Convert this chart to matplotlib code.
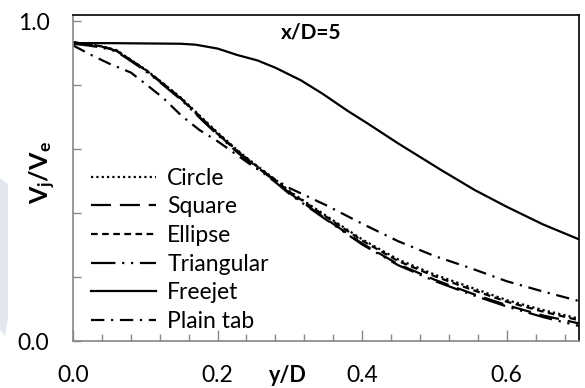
import matplotlib
matplotlib.use("Agg")
import matplotlib.pyplot as plt
import numpy as np
from matplotlib.patches import Polygon

# Veriler
yd = [0.0, 0.02, 0.04, 0.06, 0.08, 0.10, 0.12, 0.15, 0.18, 0.20, 0.23, 0.25,
      0.28, 0.30, 0.35, 0.40, 0.45, 0.50, 0.55, 0.60, 0.65, 0.70]
circle = [0.935, 0.928, 0.922, 0.910, 0.880, 0.850, 0.815, 0.760, 0.695, 0.652, 0.592, 0.556,
          0.505, 0.468, 0.392, 0.318, 0.255, 0.208, 0.168, 0.128, 0.097, 0.070]
square = [0.935, 0.928, 0.921, 0.908, 0.878, 0.848, 0.812, 0.757, 0.690, 0.648, 0.588, 0.552,
          0.500, 0.462, 0.382, 0.305, 0.240, 0.192, 0.150, 0.112, 0.080, 0.055]
ellipse = [0.935, 0.928, 0.922, 0.909, 0.879, 0.849, 0.814, 0.758, 0.693, 0.650, 0.590, 0.554,
           0.503, 0.466, 0.389, 0.314, 0.250, 0.203, 0.162, 0.123, 0.092, 0.065]
triangular = [0.930, 0.925, 0.918, 0.906, 0.876, 0.845, 0.810, 0.754, 0.688, 0.645, 0.585, 0.549,
              0.497, 0.459, 0.380, 0.302, 0.237, 0.188, 0.146, 0.108, 0.075, 0.047]

yd_free = [0.0, 0.05, 0.10, 0.15, 0.17, 0.20, 0.227, 0.255, 0.28, 0.315, 0.345, 0.38,
           0.408, 0.45, 0.51, 0.556, 0.60, 0.65, 0.70]
freejet = [0.932, 0.932, 0.931, 0.930, 0.927, 0.915, 0.895, 0.878, 0.855, 0.816, 0.774, 0.720,
           0.680, 0.618, 0.534, 0.472, 0.420, 0.365, 0.318]

yd_plain = [0.0, 0.025, 0.05, 0.08, 0.10, 0.125, 0.15, 0.175, 0.20, 0.25, 0.30, 0.35,
            0.40, 0.45, 0.50, 0.55, 0.60, 0.65, 0.70]
plain_tab = [0.925, 0.895, 0.868, 0.840, 0.805, 0.760, 0.705, 0.660, 0.625, 0.545, 0.478, 0.425,
             0.367, 0.312, 0.266, 0.228, 0.187, 0.155, 0.125]

plt.rcParams['font.family'] = ['Lato', 'DejaVu Sans']
plt.rcParams['mathtext.fontset'] = 'custom'
plt.rcParams['mathtext.rm'] = 'Lato'
plt.rcParams['mathtext.bf'] = 'Lato:bold'

fig = plt.figure(figsize=(5.85, 3.88), dpi=100)
W, H = 585, 388

# Soldaki soluk filigran
wm = Polygon([(0 / W, 1 - 178 / H), (8 / W, 1 - 184 / H), (8 / W, 1 - 318 / H),
              (5 / W, 1 - 336 / H), (0 / W, 1 - 330 / H)],
             closed=True, transform=fig.transFigure, facecolor='#e2e6ee',
             edgecolor='none', zorder=0)
fig.patches.append(wm)

ax = fig.add_axes([73 / W, 1 - 341 / H, (579 - 73) / W, (341 - 15) / H])

lw = 1.6
ax.plot(yd, circle, color='black', lw=lw, ls=(0, (1, 1.4)), label='Circle')
ax.plot(yd, square, color='black', lw=lw, ls=(0, (9, 4)), label='Square')
ax.plot(yd, ellipse, color='black', lw=lw, ls=(0, (3, 2)), label='Ellipse')
ax.plot(yd, triangular, color='black', lw=lw, ls=(0, (11, 3, 1, 3, 1, 3)), label='Triangular')
ax.plot(yd_free, freejet, color='black', lw=lw, ls='-', label='Freejet')
ax.plot(yd_plain, plain_tab, color='black', lw=lw, ls=(0, (6, 3, 1, 3)), label='Plain tab')

ax.set_xlim(0, 0.7)
ax.set_ylim(0, 1.02)

ax.set_xticks([0.0, 0.2, 0.4, 0.6])
ax.set_xticklabels(['0.0', '0.2', '0.4', '0.6'])
ax.set_xticks(np.arange(0.04, 0.7, 0.04), minor=True)
ax.set_yticks([0.0, 1.0])
ax.set_yticklabels(['0.0', '1.0'])
ax.set_yticks([0.2, 0.4, 0.6, 0.8], minor=True)

ax.tick_params(axis='x', which='major', direction='in', length=8, width=1,
               color='#888888', labelsize=16.5, pad=17)
ax.tick_params(axis='x', which='minor', direction='in', length=5, width=1, color='#888888')
ax.tick_params(axis='y', which='both', direction='in', length=6, width=1,
               color='#888888', labelsize=16.5, pad=17)

for side in ['left', 'bottom']:
    ax.spines[side].set_color('#888888')
    ax.spines[side].set_linewidth(1.2)
for side in ['top', 'right']:
    ax.spines[side].set_color('black')
    ax.spines[side].set_linewidth(1.2)

ax.text(0.471, 0.945, 'x/D=5', transform=ax.transAxes, ha='center', va='center',
        fontsize=15, fontweight='bold')

fig.text(288 / W, 1 - 375 / H, 'y/D', ha='center', va='center',
         fontsize=15.5, fontweight='bold')
fig.text(43 / W, 1 - 173 / H, r'$\mathbf{V_j/V_e}$', ha='center', va='center',
         rotation=90, fontsize=18)

leg = ax.legend(loc='upper left', bbox_to_anchor=(0.018, 0.559), frameon=False,
                fontsize=16.5, handlelength=2.84, handletextpad=0.48, labelspacing=0.33,
                borderaxespad=0)

fig.savefig('out.png', dpi=100)
